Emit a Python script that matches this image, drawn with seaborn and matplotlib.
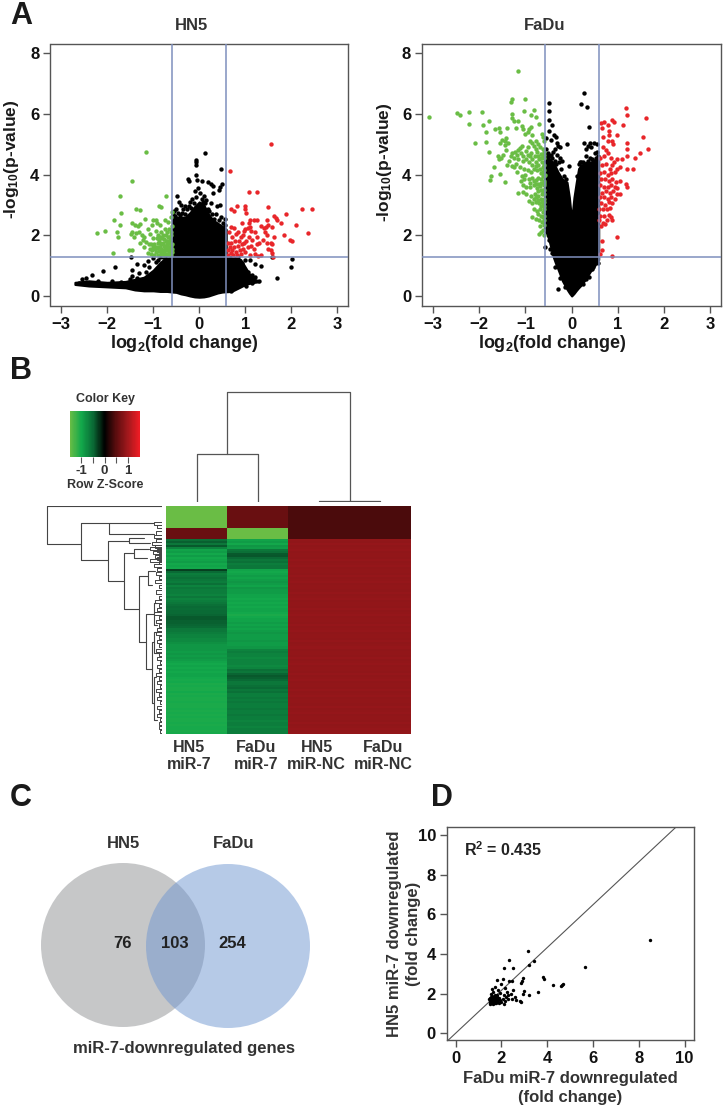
import numpy as np
import pandas as pd
import matplotlib
matplotlib.use("Agg")
import matplotlib.pyplot as plt
from matplotlib.colors import LinearSegmentedColormap
from matplotlib.patches import Circle
import seaborn as sns

W, H = 725, 1111
GREEN, RED, LINE_BLUE, FRAME = "#6abd45", "#e8262a", "#7f8fbd", "#555555"

# volcano, black cloud read as outline: x, top, bottom
hn5_cloud_x = [-2.7, -2.4, -2.0, -1.6, -1.4, -1.2, -1.0, -0.85, -0.7, -0.585, -0.585, -0.5, -0.4, -0.3, -0.2, -0.1, 0.0, 0.1, 0.2, 0.3, 0.4, 0.5, 0.585, 0.585, 0.7, 0.9, 1.0, 1.1, 1.2, 1.3]
hn5_cloud_top = [0.45, 0.5, 0.45, 0.48, 0.55, 0.62, 0.85, 1.1, 1.3, 1.3, 2.6, 2.6, 2.6, 2.6, 2.75, 2.95, 3.1, 3.0, 2.7, 2.5, 2.4, 2.3, 2.2, 1.3, 1.3, 1.2, 0.95, 0.7, 0.55, 0.5]
hn5_cloud_bottom = [0.38, 0.33, 0.3, 0.27, 0.2, 0.17, 0.17, 0.15, 0.15, 0.13, 0.13, 0.12, 0.07, 0.04, 0.0, -0.03, -0.04, -0.03, 0.0, 0.05, 0.1, 0.13, 0.14, 0.14, 0.15, 0.3, 0.38, 0.42, 0.45, 0.47]
fadu_cloud_x = [-0.585, -0.5, -0.4, -0.33, -0.3, -0.2, -0.1, -0.05, 0.0, 0.05, 0.1, 0.15, 0.2, 0.3, 0.4, 0.5, 0.585]
fadu_cloud_top = [4.75, 4.55, 4.4, 4.2, 4.1, 3.85, 3.75, 3.25, 2.5, 3.25, 3.75, 4.2, 4.3, 4.4, 4.4, 4.5, 4.55]
fadu_cloud_bottom = [2.2, 1.9, 1.3, 1.0, 0.9, 0.5, 0.22, 0.1, 0.0, 0.08, 0.18, 0.27, 0.35, 0.55, 0.8, 1.0, 1.2]

hn5_black = [(0.13, 4.7), (-0.07, 4.47), (-0.07, 4.4), (-0.07, 4.3), (-0.07, 4.0), (0.48, 4.2), (-0.25, 3.85), (-0.22, 3.8), (-0.05, 3.82), (0.05, 3.78), (0.2, 3.75), (0.25, 3.7), (0.3, 3.63), (0.45, 3.6), (0.5, 3.7), (0.42, 3.5), (0.3, 3.4), (-0.48, 3.28), (-0.45, 3.1), (-0.4, 3.0), (-0.3, 2.98), (-0.2, 3.1), (-0.15, 3.2), (-0.1, 3.45), (-0.02, 3.55), (0.02, 3.4), (0.1, 3.3), (0.15, 3.15), (0.25, 3.05), (0.38, 2.98), (0.45, 3.0), (0.48, 2.6), (0.55, 2.55), (-0.55, 2.8), (-0.5, 2.85), (-0.35, 2.85),
             (-0.57, 2.7), (-0.53, 2.65), (-0.47, 2.72), (-0.42, 2.68), (-0.37, 2.75), (-0.32, 2.7), (-0.27, 2.85), (-0.23, 2.95), (-0.17, 2.9), (-0.12, 3.05), (-0.06, 3.25), (0.05, 3.2), (0.08, 3.1), (0.13, 3.05), (0.18, 2.85), (0.22, 2.8), (0.27, 2.7), (0.33, 2.55), (0.37, 2.7), (0.43, 2.5), (0.52, 2.42), (0.56, 2.35),
             (-1.48, 1.3), (-1.47, 0.85), (-1.82, 0.95), (-2.08, 0.83), (-2.33, 0.7), (-2.45, 0.6), (-2.55, 0.55), (-1.35, 1.05), (-1.2, 1.03), (-1.12, 1.15), (-1.0, 1.25), (-0.95, 1.12), (-0.85, 1.28), (-1.3, 0.75), (-1.15, 0.8), (-1.45, 0.65),
             (2.02, 1.22), (2.0, 0.97), (1.69, 0.6), (1.57, 1.28), (1.22, 1.05), (1.33, 1.0), (1.1, 1.18), (1.0, 1.2), (1.05, 0.8), (1.15, 0.7), (1.22, 0.62), (0.95, 0.95), (0.85, 1.27), (0.98, 0.4),
             (-2.62, 0.42), (-2.5, 0.44), (-2.2, 0.48), (-1.9, 0.5), (-1.7, 0.46), (-1.5, 0.55), (-1.35, 0.6), (-1.1, 0.95), (-0.9, 1.2), (-0.78, 1.28), (1.02, 0.33), (1.15, 0.42), (1.3, 0.48), (0.92, 1.1), (0.8, 1.22), (0.75, 0.28), (0.68, 0.18)]
hn5_down = [(-1.15, 4.75), (-1.47, 3.8), (-1.73, 3.28), (-0.72, 3.3), (-1.38, 2.88), (-1.28, 2.83), (-1.7, 2.72), (-0.88, 2.97), (-0.83, 2.92), (-1.85, 2.5), (-1.72, 2.33), (-2.23, 2.08), (-2.04, 2.13), (-1.78, 2.12), (-1.76, 1.95), (-1.87, 1.43), (-1.52, 1.5), (-1.47, 1.5), (-1.45, 2.4), (-1.4, 2.33), (-1.33, 2.3), (-1.28, 2.38), (-1.17, 2.53), (-1.0, 2.5), (-0.95, 2.52), (-0.92, 2.4), (-0.85, 2.35), (-0.75, 2.5), (-0.68, 2.45), (-0.62, 2.6), (-0.6, 2.78),
            (-1.48, 2.05), (-1.45, 2.12), (-1.42, 1.95), (-1.38, 2.08), (-1.3, 2.1), (-1.25, 2.0), (-1.2, 1.95), (-1.22, 1.85), (-1.15, 1.78), (-1.12, 2.2), (-1.08, 2.05), (-1.02, 2.35), (-1.0, 1.9), (-0.98, 1.7), (-0.95, 2.15), (-0.9, 2.0), (-0.88, 1.85), (-0.85, 1.6), (-0.82, 2.1), (-0.8, 1.9), (-0.78, 1.75), (-0.75, 2.2), (-0.72, 2.0), (-0.7, 1.8), (-0.68, 1.6), (-0.65, 2.2), (-0.63, 1.95), (-0.6, 1.7), (-0.6, 2.3),
            (-1.12, 1.42), (-1.08, 1.55), (-1.05, 1.38), (-1.02, 1.5), (-0.98, 1.35), (-0.95, 1.45), (-0.92, 1.58), (-0.9, 1.35), (-0.87, 1.48), (-0.84, 1.38), (-0.82, 1.7), (-0.8, 1.52), (-0.78, 1.35), (-0.76, 1.45), (-0.74, 1.6), (-0.72, 1.38), (-0.7, 1.5), (-0.68, 1.35), (-0.66, 1.75), (-0.65, 1.45), (-0.63, 1.55), (-0.62, 1.35), (-0.6, 1.45), (-0.6, 1.55), (-1.2, 1.6), (-1.28, 1.75), (-0.9, 1.75), (-0.85, 1.95), (-0.76, 1.88), (-0.64, 1.85), (-0.7, 1.68), (-0.94, 1.62),
            (-0.61, 2.0), (-0.61, 2.12), (-0.62, 1.65), (-0.64, 1.42), (-0.66, 1.58), (-0.67, 1.95), (-0.69, 2.1), (-0.71, 1.72), (-0.73, 1.8), (-0.75, 1.55), (-0.77, 1.65), (-0.79, 2.0), (-0.81, 1.42), (-0.83, 1.55), (-0.86, 1.75), (-0.89, 1.6), (-0.92, 1.9), (-0.97, 1.55), (-1.0, 1.62), (-1.04, 1.72), (-1.1, 1.7)]
hn5_up = [(1.55, 5.0), (0.67, 4.13), (1.08, 3.42), (1.25, 3.42), (0.7, 2.88), (0.76, 2.8), (0.82, 2.97), (1.0, 2.95), (1.0, 2.85), (1.5, 2.92), (1.02, 2.75), (2.45, 2.88), (2.23, 2.85), (1.89, 2.7), (1.63, 2.65), (1.66, 2.58), (1.48, 2.52), (1.68, 2.52), (1.78, 2.42), (2.1, 2.33), (2.37, 2.07), (1.85, 2.0), (1.62, 1.95), (1.98, 1.83), (2.02, 1.8), (1.6, 1.3), (1.57, 1.43),
          (1.5, 2.35), (1.45, 2.28), (1.4, 2.25), (1.35, 2.3), (1.58, 2.28), (1.42, 2.1), (1.47, 2.0), (1.38, 1.85), (1.3, 1.75), (1.48, 1.75), (1.55, 1.75), (1.57, 1.7), (1.5, 1.55), (1.56, 1.5), (1.33, 1.35), (1.28, 1.33), (1.22, 1.4), (1.1, 1.35), (1.18, 2.5), (1.1, 2.5), (1.25, 2.5), (1.08, 2.4), (1.0, 2.2), (1.05, 2.25), (1.1, 2.28), (1.12, 2.15), (0.98, 2.15), (0.92, 2.4), (1.2, 2.1), (1.25, 1.95), (1.15, 1.85), (1.08, 1.95), (1.02, 1.8), (0.95, 2.0), (0.9, 1.95), (0.85, 2.1), (0.8, 2.05), (0.75, 2.25), (0.68, 2.28), (0.72, 1.95), (0.65, 2.1),
          (0.62, 1.75), (0.62, 1.5), (0.62, 1.35), (0.66, 1.6), (0.68, 1.42), (0.7, 1.75), (0.72, 1.5), (0.74, 1.35), (0.76, 1.62), (0.78, 1.8), (0.8, 1.45), (0.82, 1.35), (0.84, 1.65), (0.86, 1.8), (0.88, 1.5), (0.9, 1.38), (0.92, 1.7), (0.95, 1.55), (0.98, 1.75), (1.0, 1.45), (1.05, 1.6), (1.12, 1.65), (1.18, 1.55), (1.25, 1.7)]

fadu_black = [(0.26, 6.7), (0.2, 6.33), (0.33, 6.22), (-0.49, 6.35), (-0.49, 6.1), (-0.5, 5.8), (-0.42, 5.62), (-0.48, 5.45), (0.38, 5.57), (-0.38, 5.3), (-0.33, 5.25), (-0.32, 5.05), (-0.45, 5.15), (-0.55, 5.2), (-0.1, 5.02), (0.27, 5.05), (0.4, 5.05), (0.48, 5.05), (0.55, 5.0), (0.35, 4.95), (0.3, 4.85), (0.42, 4.9), (0.5, 4.7),
              (-0.35, 4.85), (-0.3, 4.95), (-0.25, 4.9), (-0.4, 4.75), (-0.32, 4.65), (-0.25, 4.55), (-0.45, 4.65), (-0.2, 4.45), (-0.28, 4.4), (-0.05, 4.28), (0.32, 4.6), (0.4, 4.55), (0.55, 4.75), (-0.58, 1.6), (-0.47, 1.55), (-0.3, 0.23), (0.56, 1.1), (0.5, 1.18), (0.43, 0.9), (0.38, 0.62), (-0.42, 1.42), (0.16, 4.35), (0.2, 4.4),
              (-0.56, 4.85), (-0.52, 4.7), (-0.48, 4.6), (-0.43, 4.55), (-0.37, 4.45), (-0.34, 4.35), (-0.24, 4.2), (-0.16, 3.95), (-0.12, 3.85), (0.12, 3.95), (0.18, 4.4), (0.25, 4.42), (0.35, 4.45), (0.45, 4.5), (0.52, 4.55), (0.57, 4.6), (-0.35, 0.95), (-0.25, 0.6), (-0.15, 0.3), (0.25, 0.4), (0.32, 0.55), (0.46, 0.95), (-0.5, 1.85), (-0.53, 2.1)]
fadu_down = [(-3.08, 5.9), (-2.48, 6.03), (-2.42, 5.95), (-2.22, 6.05), (-2.22, 5.67), (-1.93, 6.05), (-1.91, 5.65), (-1.78, 5.78), (-1.85, 5.4), (-2.08, 5.05), (-1.85, 5.08), (-1.78, 4.73), (-1.68, 4.25), (-1.75, 3.95), (-1.77, 3.83), (-1.55, 4.03), (-1.44, 3.77), (-1.65, 5.5), (-1.58, 5.55), (-1.55, 5.42), (-1.4, 5.55), (-1.2, 5.52), (-1.28, 6.5), (-1.15, 7.42), (-1.31, 6.4), (-1.0, 6.48), (-1.03, 6.1), (-0.82, 6.13), (-0.88, 5.95), (-0.78, 5.9), (-1.29, 6.0), (-1.29, 5.85), (-1.25, 5.75), (-1.17, 5.75), (-0.7, 5.67), (-1.08, 5.6), (-1.05, 5.5), (-0.95, 5.42), (-0.92, 5.5), (-0.88, 5.58), (-1.0, 5.35), (-0.85, 5.3), (-0.65, 5.35), (-0.62, 5.25), (-0.6, 5.1),
             (-1.42, 5.2), (-1.45, 5.12), (-1.5, 5.15), (-1.55, 5.05), (-1.45, 4.98), (-1.38, 5.05), (-1.42, 4.8), (-1.48, 4.65), (-1.6, 4.6), (-1.58, 4.5), (-1.53, 4.55), (-1.35, 4.45), (-1.4, 4.3), (-1.3, 4.28), (-1.25, 4.25), (-1.2, 4.35), (-1.28, 4.7), (-1.22, 4.75), (-1.18, 4.65), (-1.15, 4.8), (-1.12, 4.88), (-1.08, 4.95), (-1.1, 4.72), (-1.05, 4.6), (-1.15, 4.52), (-1.05, 4.45), (-1.12, 4.25), (-1.18, 4.1), (-1.02, 4.2), (-0.98, 4.78), (-0.95, 4.9), (-0.9, 5.1), (-0.85, 5.05), (-0.82, 4.95), (-0.78, 5.1), (-0.72, 5.02), (-0.68, 4.9), (-0.62, 4.85), (-0.88, 4.72), (-0.8, 4.62), (-0.74, 4.75), (-0.66, 4.68), (-0.6, 4.65),
             (-0.98, 4.5), (-0.92, 4.4), (-0.85, 4.5), (-0.78, 4.4), (-0.7, 4.5), (-0.64, 4.42), (-0.6, 4.3), (-0.95, 4.15), (-0.88, 4.1), (-0.82, 4.2), (-0.75, 4.15), (-0.68, 4.2), (-0.62, 4.1), (-0.58, 4.0), (-1.08, 3.95), (-1.02, 3.85), (-0.92, 3.85), (-0.85, 3.9), (-0.78, 3.82), (-0.72, 3.9), (-0.66, 3.85), (-0.6, 3.8), (-0.6, 3.65), (-1.05, 3.65), (-0.98, 3.6), (-0.9, 3.58), (-0.82, 3.65), (-0.75, 3.55), (-0.68, 3.62), (-0.62, 3.5), (-0.6, 3.35),
             (-1.15, 3.38), (-1.05, 3.42), (-0.98, 3.35), (-0.88, 3.3), (-0.8, 3.35), (-0.72, 3.3), (-0.65, 3.35), (-0.6, 3.2), (-0.92, 3.12), (-0.85, 3.05), (-0.78, 3.1), (-0.7, 3.05), (-0.64, 3.1), (-0.6, 2.95), (-0.82, 2.85), (-0.75, 2.8), (-0.68, 2.85), (-0.62, 2.78), (-0.6, 2.62), (-0.78, 2.55), (-0.85, 2.6), (-0.7, 2.5), (-0.64, 2.45), (-0.6, 2.35), (-0.68, 2.3), (-0.62, 2.18), (-0.7, 2.05), (-0.66, 2.1), (-0.6, 2.02),
             (-0.59, 4.75), (-0.59, 4.55), (-0.6, 4.15), (-0.6, 3.95), (-0.59, 3.72), (-0.59, 3.5), (-0.59, 3.1), (-0.59, 2.85), (-0.59, 2.5), (-0.63, 4.62), (-0.63, 4.25), (-0.63, 3.95), (-0.63, 3.72), (-0.63, 3.4), (-0.63, 3.0), (-0.63, 2.6), (-0.67, 4.55), (-0.67, 4.05), (-0.67, 3.72), (-0.67, 3.48), (-0.67, 3.2), (-0.67, 2.95), (-0.67, 2.62), (-0.72, 4.6), (-0.72, 4.3), (-0.72, 3.7), (-0.72, 3.45), (-0.72, 3.15), (-0.72, 2.7), (-0.77, 4.85), (-0.77, 4.28), (-0.77, 3.7), (-0.77, 3.25), (-0.82, 3.8), (-0.82, 3.2), (-0.85, 4.3), (-0.9, 4.6), (-0.9, 3.72), (-0.95, 4.65), (-1.0, 4.0), (-1.1, 3.8), (-1.25, 4.55), (-1.32, 4.6)]
fadu_up = [(1.18, 6.18), (1.19, 5.98), (1.6, 5.85), (0.88, 5.8), (0.92, 5.72), (0.63, 5.7), (0.71, 5.72), (0.79, 5.62), (0.66, 5.55), (1.12, 5.65), (0.8, 5.45), (0.97, 5.32), (0.8, 5.3), (0.88, 5.1), (0.78, 5.12), (0.67, 5.25), (1.55, 5.25), (1.2, 5.05), (1.2, 4.85), (1.66, 4.85), (1.48, 4.7), (0.9, 5.0), (0.67, 4.9), (0.75, 4.8), (1.2, 4.6), (1.38, 4.55), (1.08, 4.5), (0.98, 4.5), (1.2, 4.18), (1.33, 4.2), (1.05, 4.25), (0.98, 4.2), (1.18, 3.7), (1.2, 3.6), (1.05, 3.78), (1.05, 3.35), (0.97, 1.93), (0.88, 1.33), (0.65, 1.5), (0.62, 1.4), (0.65, 1.8),
           (0.62, 4.55), (0.7, 4.6), (0.78, 4.7), (0.85, 4.55), (0.92, 4.4), (0.66, 4.3), (0.74, 4.35), (0.82, 4.2), (0.88, 4.3), (0.62, 4.05), (0.7, 4.1), (0.78, 4.0), (0.86, 4.05), (0.94, 4.1), (0.64, 3.85), (0.72, 3.85), (0.8, 3.8), (0.88, 3.85), (0.96, 3.75), (0.62, 3.65), (0.7, 3.6), (0.78, 3.6), (0.85, 3.65), (0.93, 3.6), (0.98, 3.55), (0.66, 3.4), (0.74, 3.45), (0.82, 3.4), (0.9, 3.45), (0.97, 3.35), (0.62, 3.25), (0.7, 3.25), (0.78, 3.2), (0.86, 3.25), (0.94, 3.2), (0.64, 3.05), (0.72, 3.0), (0.8, 3.1), (0.88, 3.08), (0.6, 2.85), (0.68, 2.85), (0.76, 2.88), (0.84, 2.9), (0.62, 2.65), (0.7, 2.65), (0.8, 2.68), (0.86, 2.6), (0.6, 2.5), (0.68, 2.42), (0.76, 2.5), (0.64, 2.32), (0.72, 2.38), (0.87, 2.5)]

# heatmap, one value per row
row_labels = ["HN5\nmiR-7", "FaDu\nmiR-7", "HN5\nmiR-NC", "FaDu\nmiR-NC"]
hn5_mir7 = [-1.5] * 11 + [0.6] * 5 + [-0.55, -0.45, -0.6, -0.42, -0.7] + [-0.95, -0.9, -1.0, -0.9, -1.0, -0.95, -0.9, -1.0, -0.95, -1.0] + [-0.3, -0.5, -0.65, -0.6, -0.55, -0.6, -0.65, -0.55, -0.7, -0.6, -0.65, -0.65, -0.7, -0.6, -0.7, -0.65, -0.6, -0.55, -0.5, -0.52, -0.5, -0.5, -0.48, -0.42, -0.42, -0.45, -0.45, -0.48, -0.5, -0.6, -0.6, -0.65, -0.7, -0.7, -0.75, -0.75, -0.8, -0.85, -0.85, -0.85, -0.9, -0.85, -0.9, -0.85, -0.9, -0.95, -1.0, -0.95, -1.0, -0.95, -1.0, -0.95, -0.95] + [-1.0, -1.02, -1.0, -1.05, -1.02, -1.05, -1.05, -1.0, -1.05, -1.02, -1.05, -1.05, -1.02, -1.05, -1.05, -1.02, -1.05, -1.02, -1.05, -1.02, -1.05, -1.05, -1.02, -1.05, -1.02, -1.02, -1.05, -1.02]
fadu_mir7 = [0.6] * 11 + [-1.5] * 5 + [-0.95, -0.9, -1.0, -0.85, -0.9] + [-0.6, -0.55, -0.42, -0.4, -0.5, -0.6, -0.55, -0.65, -0.6, -0.6] + [-0.95, -1.0, -0.95, -0.9, -0.95, -0.9, -0.85, -0.9, -0.95, -0.85, -0.9, -0.9, -0.95, -0.95, -1.0, -0.95, -1.0, -0.95, -1.0, -0.95, -0.95, -1.0, -1.05, -1.0, -0.95, -0.95, -0.9, -0.95, -0.9, -0.95, -0.9, -0.85, -0.9, -0.9, -0.9, -0.85, -0.9, -0.9, -0.85, -0.7, -0.65, -0.7, -0.7, -0.75, -0.7, -0.7, -0.7, -0.75, -0.7, -0.55, -0.6, -0.48, -0.42, -0.45, -0.5] + [-0.6, -0.6, -0.55, -0.5, -0.6, -0.55, -0.65, -0.65, -0.6, -0.65, -0.6, -0.65, -0.65, -0.6, -0.65, -0.65, -0.6, -0.65, -0.65, -0.7, -0.65, -0.65, -0.7, -0.65, -0.65, -0.65]
hn5_nc = [0.42] * 16 + [0.9, 0.88, 0.92, 0.88, 0.9, 0.92, 0.88, 0.9] * 12
fadu_nc = hn5_nc

# column dendrogram heights
col_merges = [(0.5, 1.5, 0.0, 0.0, 0.44), (2.5, 3.5, 0.0, 0.0, 0.01), (1.0, 3.0, 0.44, 0.01, 1.0)]

# row dendrogram: depth, row_a, row_b, depth_a, depth_b
row_merges = [(1.0, 0.0, 18.7, 0.0, 0.705), (0.705, 8.2, 26.7, 0.455, 0.47), (0.455, 8.2, 13.7, 0.07, 0.07),
              (0.47, 17.0, 37.0, 0.285, 0.33), (0.285, 15.7, 18.2, 0.16, 0.10), (0.33, 23.2, 50.7, 0.245, 0.2),
              (0.245, 21.2, 25.7, 0.115, 0.13), (0.2, 34.2, 67.0, 0.125, 0.14), (0.125, 32.0, 38.7, 0.06, 0.09),
              (0.14, 53.2, 80.2, 0.07, 0.085), (0.07, 47.7, 58.7, 0.045, 0.04), (0.085, 67.0, 97.0, 0.07, 0.07),
              (0.07, 62.0, 72.0, 0.035, 0.03), (0.07, 84.0, 105.0, 0.05, 0.04)]
row_comb = [8.0, 9.5, 12.5, 14.0, 16.0, 17.5, 19.0, 20.0, 21.0, 22.0, 23.0, 24.0, 25.0, 26.0, 27.0, 28.5, 30.5, 32.5, 34.5, 36.5, 39.0, 41.5, 44.0, 46.0, 48.0, 50.0, 52.0, 54.0, 56.0, 58.0, 60.0, 62.0, 64.0, 66.0, 68.0, 70.0, 72.0, 74.0, 76.0, 78.0, 80.0, 82.0, 84.0, 86.0, 88.0, 90.0, 92.0, 94.0, 96.0, 98.0, 100.0, 102.0, 104.0, 106.0, 108.0, 110.0]
row_comb_depth = [0.07, 0.04, 0.05, 0.07, 0.05, 0.09, 0.06, 0.1, 0.04, 0.08, 0.03, 0.06, 0.04, 0.1, 0.03, 0.07, 0.04, 0.05, 0.03, 0.06, 0.03, 0.05, 0.03, 0.06, 0.03, 0.04, 0.07, 0.03, 0.05, 0.03, 0.04, 0.05, 0.03, 0.04, 0.03, 0.05, 0.03, 0.04, 0.02, 0.04, 0.03, 0.05, 0.03, 0.04, 0.02, 0.05, 0.03, 0.04, 0.02, 0.04, 0.03, 0.04, 0.02, 0.03, 0.03, 0.02]

venn_counts = [76, 103, 254]
venn_labels = ["HN5", "FaDu"]

# panel D, FaDu vs HN5 fold change
scatter_pts = [(8.47, 4.7), (5.65, 3.35), (4.67, 2.5), (4.65, 2.42), (4.6, 2.38), (4.25, 2.45), (3.82, 2.85), (3.85, 2.75), (3.6, 2.1), (3.15, 4.15), (2.35, 3.7), (3.2, 3.45), (3.42, 3.62), (2.1, 3.28), (2.5, 3.3), (2.95, 2.8), (2.9, 2.65), (2.85, 2.55), (2.45, 2.65), (2.35, 2.65), (2.5, 2.2), (3.0, 2.15), (2.95, 2.0), (3.2, 1.95), (2.8, 1.65), (2.85, 1.58),
               (2.6, 1.85), (2.45, 1.72), (2.3, 1.72), (2.65, 1.7), (2.4, 2.0), (2.25, 2.1), (2.15, 2.3), (2.0, 2.5), (1.8, 2.7), (2.05, 2.75), (1.7, 2.35), (1.6, 2.25), (1.65, 2.1), (1.85, 2.2), (1.95, 2.05), (2.1, 1.95), (2.2, 1.85), (2.3, 1.95), (2.15, 1.65), (2.1, 1.5), (2.0, 1.6), (1.9, 1.8), (1.8, 1.95), (1.7, 1.95), (1.6, 1.9), (1.55, 2.0),
               (1.5, 1.5), (1.55, 1.6), (1.6, 1.55), (1.65, 1.5), (1.7, 1.6), (1.75, 1.55), (1.8, 1.65), (1.85, 1.6), (1.9, 1.55), (1.5, 1.7), (1.55, 1.75), (1.6, 1.7), (1.65, 1.75), (1.7, 1.7), (1.75, 1.8), (1.8, 1.75), (1.85, 1.75), (1.95, 1.7), (2.05, 1.75), (1.5, 1.8), (1.55, 1.85), (1.6, 1.8), (1.65, 1.85), (1.7, 1.85), (1.75, 1.9), (1.8, 1.85), (1.55, 1.65), (1.6, 1.62), (1.65, 1.65), (1.7, 1.52), (1.5, 1.62), (1.58, 1.78), (1.63, 1.58), (1.72, 1.78), (1.48, 1.75), (1.52, 1.55)]


def px_axes(fig, left, top, right, bottom):
    return fig.add_axes([left / W, 1 - bottom / H, (right - left) / W, (bottom - top) / H])


def px_text(fig, x, y, s, size=11, color="#1a1a1a", **kw):
    kw.setdefault("ha", "center")
    kw.setdefault("va", "center")
    kw.setdefault("fontweight", "bold")
    fig.text(x / W, 1 - y / H, s, fontsize=size, color=color, **kw)


def dots(ax, pts, color, size=10):
    df = pd.DataFrame(pts, columns=["x", "y"])
    sns.scatterplot(data=df, x="x", y="y", color=color, s=size, linewidth=0, ax=ax, legend=False, zorder=3)


def style_frame(ax):
    for spine in ax.spines.values():
        spine.set_color(FRAME)
        spine.set_linewidth(1.0)
    ax.tick_params(length=5, width=1, color=FRAME, labelsize=12, pad=3, bottom=True, left=True)
    for lab in ax.get_xticklabels() + ax.get_yticklabels():
        lab.set_fontweight("bold")
        lab.set_color("#111111")


def volcano(ax, cloud, black, down, up):
    ax.fill_between(cloud[0], cloud[1], cloud[2], color="black", linewidth=1.5, zorder=2)
    dots(ax, black, "black")
    dots(ax, down, GREEN)
    dots(ax, up, RED)
    for xv in (-0.585, 0.585):
        ax.axvline(xv, color=LINE_BLUE, lw=1.1, zorder=4)
    ax.axhline(1.3, color=LINE_BLUE, lw=1.1, zorder=4)
    ax.set_xlim(-3.23, 3.23)
    ax.set_ylim(-0.33, 8.32)
    ax.set_xticks(range(-3, 4))
    ax.set_yticks(range(0, 9, 2))
    ax.set_xlabel("")
    ax.set_ylabel("")
    style_frame(ax)


sns.set_theme(style="white")
plt.rcParams["font.family"] = ["Liberation Sans", "DejaVu Sans"]
plt.rcParams["mathtext.fontset"] = "custom"
plt.rcParams["mathtext.bf"] = "Liberation Sans:bold"
plt.rcParams["mathtext.rm"] = "Liberation Sans:bold"
plt.rcParams["mathtext.default"] = "bf"

fig = plt.figure(figsize=(W / 100, H / 100), dpi=100)

# A
ax_hn5 = px_axes(fig, 50.5, 43.5, 348, 306)
volcano(ax_hn5, (hn5_cloud_x, hn5_cloud_top, hn5_cloud_bottom), hn5_black, hn5_down, hn5_up)
ax_fadu = px_axes(fig, 422.3, 43.5, 721, 306)
volcano(ax_fadu, (fadu_cloud_x, fadu_cloud_top, fadu_cloud_bottom), fadu_black, fadu_down, fadu_up)
px_text(fig, 21, 16, "A", size=22)
px_text(fig, 192, 26, "HN5", size=12, color="#333333")
px_text(fig, 545, 26, "FaDu", size=12, color="#333333")
xlab = r"log$_{\mathbf{2}}$(fold change)"
ylab = r"-log$_{\mathbf{10}}$(p-value)"
px_text(fig, 184, 343, xlab, size=13)
px_text(fig, 552, 343, xlab, size=13)
px_text(fig, 12, 159, ylab, size=12.5, rotation=90)
px_text(fig, 385, 162, ylab, size=12.5, rotation=90)

# B
px_text(fig, 21, 371, "B", size=22)
heat_cmap = LinearSegmentedColormap.from_list("key", [
    (0.0, "#6abd45"), (1 / 6, "#12a84b"), (2 / 6, "#0a6a35"), (0.5, "#000000"),
    (4 / 6, "#5a0d0e"), (5 / 6, "#a0181c"), (1.0, "#ed1c24")])
ax_heat = px_axes(fig, 166, 506, 410.7, 734)
heat_df = pd.DataFrame({"a": hn5_mir7, "b": fadu_mir7, "c": hn5_nc, "d": fadu_nc})
sns.heatmap(heat_df, ax=ax_heat, cmap=heat_cmap, vmin=-1.5, vmax=1.5, cbar=False,
            xticklabels=False, yticklabels=False)
ax_heat.set_xlabel("")
ax_heat.set_ylabel("")
for xc, lab in zip([189, 256, 316.7, 383], row_labels):
    px_text(fig, xc, 756, lab, size=11.5, color="#333333", linespacing=1.15)

ax_key = px_axes(fig, 69.5, 411, 139.5, 456.7)
sns.heatmap(np.linspace(-1.5, 1.5, 128).reshape(1, -1), ax=ax_key, cmap=heat_cmap, vmin=-1.5, vmax=1.5,
            cbar=False, xticklabels=False, yticklabels=False)
ax_key.set_xticks([128 * (v + 1.5) / 3 for v in (-1, -0.5, 0, 0.5, 1)])
ax_key.set_xticklabels(["-1", "", "0", "", "1"], fontweight="bold", fontsize=9.5, color="#333333")
ax_key.tick_params(bottom=True, length=4, width=0.8, color=FRAME, pad=2)
px_text(fig, 106, 399, "Color Key", size=9, color="#333333")
px_text(fig, 105.5, 485, "Row Z-Score", size=9, color="#333333")

ax_cden = px_axes(fig, 166, 391, 410.7, 502)
for x0, x1, h0, h1, top in col_merges:
    ax_cden.plot([x0, x0, x1, x1], [h0, top, top, h1], color="#555555", lw=0.9)
ax_cden.set_xlim(0, 4)
ax_cden.set_ylim(0, 1.01)
ax_cden.axis("off")

ax_rden = px_axes(fig, 46, 506, 162, 734)
for depth, ra, rb, da, db in row_merges:
    ax_rden.plot([da, depth, depth, db], [ra, ra, rb, rb], color="#444444", lw=0.8)
for row, d in zip(row_comb, row_comb_depth):
    ax_rden.plot([0, d, d, 0], [row, row, row + 1.5, row + 1.5], color="#444444", lw=0.7)
ax_rden.set_xlim(1.005, 0)
ax_rden.set_ylim(112, 0)
ax_rden.axis("off")

# C
px_text(fig, 21, 798, "C", size=22)
ax_venn = px_axes(fig, 0, 840, 330, 1040)
ax_venn.set_xlim(0, 330)
ax_venn.set_ylim(1040, 840)
ax_venn.set_aspect("equal")
ax_venn.add_patch(Circle((123, 945), 82, facecolor="#8e9093", alpha=0.5, edgecolor="none"))
ax_venn.add_patch(Circle((228, 946), 82, facecolor="#6f96d1", alpha=0.5, edgecolor="none"))
ax_venn.axis("off")
px_text(fig, 123, 843, venn_labels[0], size=12, color="#333333")
px_text(fig, 234, 843, venn_labels[1], size=12, color="#333333")
for xc, val in zip([122, 175, 232], venn_counts):
    px_text(fig, xc, 943, str(val), size=12, color="#222222")
px_text(fig, 184, 1049, "miR-7-downregulated genes", size=12, color="#333333")

# D
px_text(fig, 442, 798, "D", size=22)
ax_d = px_axes(fig, 447, 827, 693.5, 1040)
ax_d.axline((0, 0), slope=1.08, color="#555555", lw=0.8, zorder=1)
dots(ax_d, scatter_pts, "black", size=6)
ax_d.set_xlim(-0.375, 10.39)
ax_d.set_ylim(-0.34, 10.4)
ax_d.set_xticks(range(0, 11, 2))
ax_d.set_yticks(range(0, 11, 2))
ax_d.set_xlabel("")
ax_d.set_ylabel("")
style_frame(ax_d)
px_text(fig, 503, 850, r"R$^{\mathbf{2}}$ = 0.435", size=11.5, color="#222222")
px_text(fig, 570, 1088, "FaDu miR-7 downregulated\n(fold change)", size=12, color="#333333", linespacing=1.3)
px_text(fig, 404, 934, "HN5 miR-7 downregulated\n(fold change)", size=12, color="#333333", rotation=90, linespacing=1.3)

fig.savefig("out.png", dpi=100)
